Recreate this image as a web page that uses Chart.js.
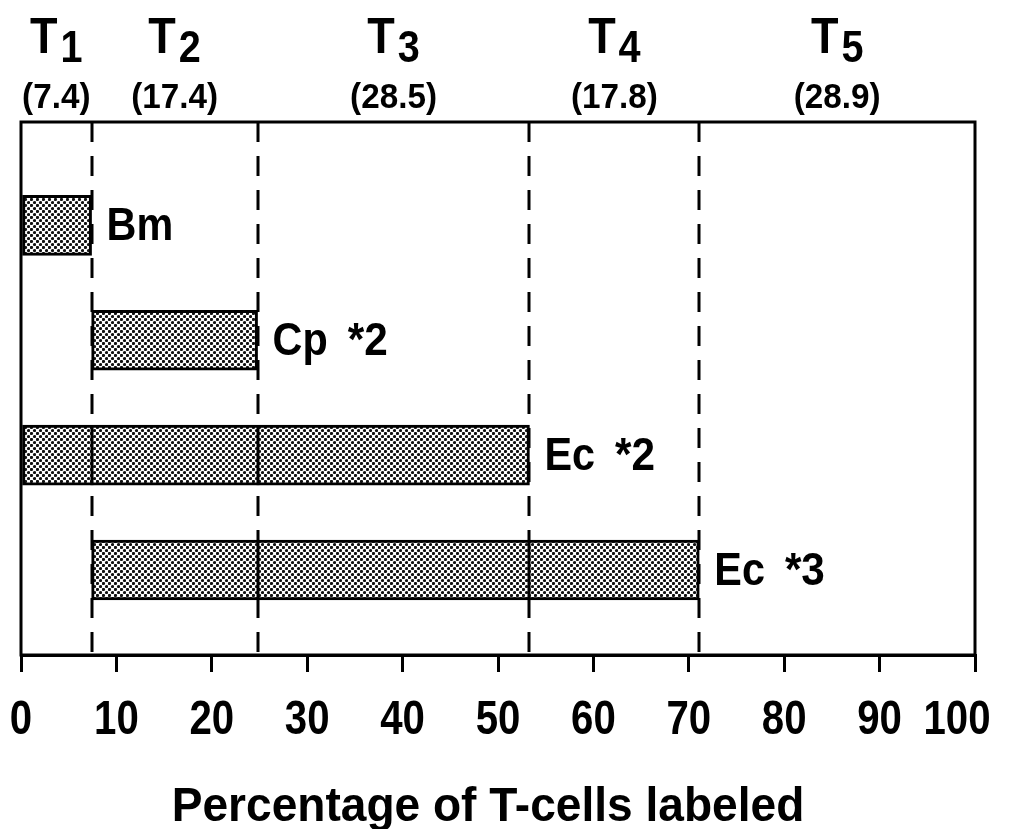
<!DOCTYPE html>
<html>
<head>
<meta charset="utf-8">
<script src="https://cdn.jsdelivr.net/npm/chart.js@4.4.0/dist/chart.umd.min.js"></script>
<style>
  html, body { margin: 0; padding: 0; background: #fff; }
  #wrap { width: 1021px; height: 829px; }
</style>
</head>
<body>
<div id="wrap"><canvas id="graf"></canvas></div>
<script>
// dados
const grupos = ['Bm', 'Cp *2', 'Ec *2', 'Ec *3'];
const linhas = [1, 2, 3, 4];
const inicios = [0, 7.4, 0, 7.4];
const fins = [7.4, 24.8, 53.3, 71.1];

const subconjuntos = ['1', '2', '3', '4', '5'];
const percentuais = [7.4, 17.4, 28.5, 17.8, 28.9];

const ticksX = [0, 10, 20, 30, 40, 50, 60, 70, 80, 90, 100];
const tituloX = 'Percentage of T-cells labeled';

const FONTE = "'Liberation Sans', Arial, sans-serif";

// limites acumulados dos subconjuntos T1..T5
const limites = [];
let soma = 0;
percentuais.forEach(p => { soma += p; limites.push(Math.round(soma * 10) / 10); });

// textura pontilhada das barras
const padrao = (() => {
  const c = document.createElement('canvas');
  c.width = 6; c.height = 6;
  const g = c.getContext('2d');
  g.fillStyle = '#fff';
  g.fillRect(0, 0, 6, 6);
  g.fillStyle = '#111';
  [[1.5, 1.5], [4.5, 4.5]].forEach(([x, y]) => {
    g.beginPath(); g.arc(x, y, 1.6, 0, Math.PI * 2); g.fill();
  });
  return g.createPattern(c, 'repeat');
})();

const dados = grupos.map((g, i) => ({ x: [inicios[i], fins[i]], y: linhas[i] }));

// texto "condensado" (escala horizontal)
const texto = (ctx, t, x, y, tam, esc, alinh) => {
  ctx.save();
  ctx.font = 'bold ' + tam + 'px ' + FONTE;
  ctx.textBaseline = 'alphabetic';
  ctx.textAlign = alinh || 'left';
  ctx.translate(x, y);
  ctx.scale(esc, 1);
  ctx.fillText(t, 0, 0);
  const w = ctx.measureText(t).width * esc;
  ctx.restore();
  return w;
};

const extras = {
  id: 'extras',
  beforeDatasetsDraw(chart) {
    const { ctx, chartArea: a, scales: { x } } = chart;
    ctx.save();
    ctx.strokeStyle = '#000';
    ctx.lineWidth = 3;
    ctx.setLineDash([20, 14]);
    limites.slice(0, -1).forEach(v => {
      const px = Math.round(x.getPixelForValue(v));
      ctx.beginPath();
      ctx.moveTo(px, a.top);
      ctx.lineTo(px, a.bottom);
      ctx.stroke();
    });
    ctx.restore();
  },
  afterDatasetsDraw(chart) {
    const { ctx, chartArea: a, scales: { x } } = chart;
    const barras = chart.getDatasetMeta(0).data;
    ctx.save();
    ctx.strokeStyle = '#000';
    ctx.fillStyle = '#000';
    ctx.lineWidth = 3;
    // divisórias sólidas dentro das barras
    barras.forEach(b => {
      const esq = Math.min(b.x, b.base), dir = Math.max(b.x, b.base);
      limites.slice(0, -1).forEach(v => {
        const px = Math.round(x.getPixelForValue(v));
        if (px > esq + 3 && px < dir - 3) {
          ctx.beginPath();
          ctx.moveTo(px, b.y - b.height / 2);
          ctx.lineTo(px, b.y + b.height / 2);
          ctx.stroke();
        }
      });
    });
    // moldura
    ctx.strokeRect(a.left, a.top, a.right - a.left, a.bottom - a.top);

    // rótulos das barras
    barras.forEach((b, i) => {
      const [nome, num] = grupos[i].split(' ');
      let px = Math.max(b.x, b.base) + 15;
      px += texto(ctx, nome, px, b.y + 15, 47, 0.88);
      if (num) texto(ctx, num, px + 20, b.y + 15, 47, 0.9);
    });

    // T1..T5 e percentuais
    let ant = 0;
    limites.forEach((lim, i) => {
      const cx = (x.getPixelForValue(ant) + x.getPixelForValue(lim)) / 2;
      ant = lim;
      ctx.font = 'bold 50px ' + FONTE;
      const wT = ctx.measureText('T').width * 0.9;
      ctx.font = 'bold 44px ' + FONTE;
      const wN = ctx.measureText(subconjuntos[i]).width * 0.9;
      const x0 = cx - (wT + wN + 3) / 2;
      texto(ctx, 'T', x0, 53, 50, 0.9);
      texto(ctx, subconjuntos[i], x0 + wT + 3, 62, 44, 0.9);
      texto(ctx, '(' + percentuais[i].toFixed(1) + ')', cx, 108, 35, 0.95, 'center');
    });

    // rótulos do eixo x
    ticksX.forEach(v => {
      const px = x.getPixelForValue(v) - (v === 100 ? 18 : 0);
      texto(ctx, String(v), px, 734, 49, 0.82, 'center');
    });
    texto(ctx, tituloX, 488, 821, 48, 0.96, 'center');
    ctx.restore();
  }
};

new Chart(document.getElementById('graf').getContext('2d'), {
  type: 'bar',
  data: {
    datasets: [{
      data: dados,
      backgroundColor: padrao,
      borderColor: '#000',
      borderWidth: 3,
      borderSkipped: false,
      barThickness: 60
    }]
  },
  options: {
    indexAxis: 'y',
    responsive: true,
    maintainAspectRatio: false,
    animation: false,
    layout: { padding: { left: 21, right: 46, top: 122, bottom: 157 } },
    plugins: {
      legend: { display: false },
      tooltip: { enabled: false }
    },
    scales: {
      y: {
        type: 'linear',
        reverse: true,
        offset: false,
        min: 0.1,
        max: 4.74,
        display: false
      },
      x: {
        type: 'linear',
        min: 0,
        max: 100,
        afterBuildTicks: (s) => { s.ticks = ticksX.map(v => ({ value: v })); },
        ticks: { display: false },
        grid: {
          drawOnChartArea: false,
          drawTicks: true,
          tickLength: 17,
          color: '#000',
          lineWidth: 3
        },
        border: { color: '#000', width: 3 }
      }
    }
  },
  plugins: [extras]
});
</script>
</body>
</html>
